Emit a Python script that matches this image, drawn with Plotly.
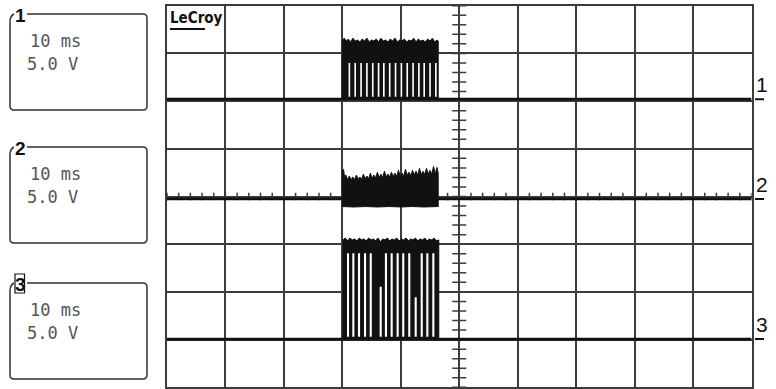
import plotly.graph_objects as go

W, H = 776, 389

# screen: 10 horizontal x 8 vertical divisions
TIME_PER_DIV_MS = 10
VOLTS_PER_DIV = 5.0
N_HDIV, N_VDIV = 10, 8

# channel ground levels (divisions from screen centre)
ch_names = ["1", "2", "3"]
ch_offsets_div = [2.04, -0.05, -2.99]
ch_timebase = ["10 ms", "10 ms", "10 ms"]
ch_scale = ["5.0 V", "5.0 V", "5.0 V"]

# --- channel 1: gate drive burst ---
ch1_start_ms, ch1_end_ms = 30.0, 46.4
ch1_top_ms = [30.0, 30.3, 30.7, 31.0, 31.4, 31.8, 32.2, 32.6, 33.0, 33.4,
              33.8, 34.2, 34.6, 35.0, 35.4, 35.8, 36.2, 36.6, 37.0, 37.4,
              37.8, 38.2, 38.6, 39.0, 39.4, 39.8, 40.2, 40.6, 41.0, 41.4,
              41.8, 42.2, 42.6, 43.0, 43.4, 43.8, 44.2, 44.6, 45.0, 45.4,
              45.8, 46.2, 46.4]
ch1_top_v = [6.0, 6.4, 6.1, 6.3, 6.0, 6.4, 6.1, 6.2, 6.0, 6.3,
             6.1, 6.4, 6.0, 6.2, 6.1, 6.3, 6.0, 6.4, 6.1, 6.2,
             6.0, 6.3, 6.1, 6.4, 6.0, 6.2, 6.1, 6.3, 6.0, 6.2,
             6.1, 6.4, 6.0, 6.3, 6.1, 6.2, 6.0, 6.3, 6.1, 6.4,
             6.0, 6.2, 6.1]
ch1_gap_ms = [31.2, 32.2, 33.2, 34.2, 35.2, 36.2, 37.1, 38.1, 39.1, 40.1,
              41.1, 42.1, 43.1, 44.0, 45.0, 46.0]
ch1_gap_top_v = [3.8, 3.8, 3.8, 3.8, 3.8, 3.8, 3.8, 3.8, 3.8, 3.8,
                 3.8, 3.8, 3.8, 3.8, 3.8, 3.8]
ch1_gap_width_ms = 0.28

# --- channel 2: current sense burst ---
ch2_start_ms, ch2_end_ms = 30.0, 46.4
ch2_top_ms = [30.0, 30.2, 30.4, 30.6, 30.9, 31.2, 31.5, 31.8, 32.1, 32.4,
              32.7, 33.0, 33.3, 33.6, 33.9, 34.2, 34.5, 34.8, 35.1, 35.4,
              35.7, 36.0, 36.3, 36.6, 36.9, 37.2, 37.5, 37.8, 38.1, 38.4,
              38.7, 39.0, 39.3, 39.6, 39.9, 40.2, 40.5, 40.8, 41.1, 41.4,
              41.7, 42.0, 42.3, 42.6, 42.9, 43.2, 43.5, 43.8, 44.1, 44.4,
              44.7, 45.0, 45.3, 45.6, 45.9, 46.2, 46.4]
ch2_top_v = [3.0, 3.1, 2.2, 2.5, 2.0, 2.4, 2.0, 2.3, 2.0, 2.5,
             2.05, 2.3, 2.05, 2.6, 2.1, 2.4, 2.1, 2.7, 2.15, 2.5,
             2.2, 2.8, 2.2, 2.6, 2.25, 2.9, 2.3, 2.6, 2.3, 2.8,
             2.35, 2.7, 2.35, 3.0, 2.4, 2.7, 2.4, 3.1, 2.45, 2.8,
             2.45, 3.0, 2.5, 2.9, 2.5, 3.2, 2.55, 2.9, 2.55, 3.2,
             2.6, 3.0, 2.6, 3.4, 2.65, 3.3, 2.7]
ch2_bottom_ms = [30.0, 32.0, 34.0, 36.0, 38.0, 40.0, 42.0, 44.0, 46.4]
ch2_bottom_v = [-0.8, -0.85, -0.8, -0.85, -0.8, -0.85, -0.8, -0.85, -0.8]

# --- channel 3: output burst ---
ch3_start_ms, ch3_end_ms = 30.1, 46.5
ch3_top_ms = [30.1, 30.5, 30.9, 31.3, 31.7, 32.1, 32.5, 32.9, 33.3, 33.7,
              34.1, 34.5, 34.9, 35.3, 35.7, 36.1, 36.5, 36.9, 37.3, 37.7,
              38.1, 38.5, 38.9, 39.3, 39.7, 40.1, 40.5, 40.9, 41.3, 41.7,
              42.1, 42.5, 42.9, 43.3, 43.7, 44.1, 44.5, 44.9, 45.3, 45.7,
              46.1, 46.5]
ch3_top_v = [10.4, 10.6, 10.3, 10.6, 10.4, 10.5, 10.3, 10.6, 10.4, 10.5,
             10.3, 10.6, 10.4, 10.5, 10.3, 10.6, 10.2, 10.5, 10.4, 10.6,
             10.3, 10.5, 10.4, 10.6, 10.3, 10.5, 10.4, 10.6, 10.3, 10.5,
             10.4, 10.6, 10.3, 10.5, 10.4, 10.6, 10.3, 10.5, 10.4, 10.6,
             10.3, 10.4]
ch3_gap_ms = [30.97, 31.88, 32.85, 33.88, 34.86, 36.56, 37.46, 38.44, 39.46,
              40.42, 41.45, 42.55, 43.58, 44.54, 45.57]
ch3_gap_top_v = [9.0, 9.0, 9.0, 9.0, 9.0, 5.5, 9.0, 9.0, 9.0,
                 9.0, 9.0, 4.4, 9.0, 9.0, 9.0]
ch3_gap_width_ms = 0.36

GAP_FLOOR_V = 0.25
INK = "#111111"
GRID = "#3c3c3c"


def to_div(volts, ch):
    return ch_offsets_div[ch] + volts / VOLTS_PER_DIV


def px(x):
    return x / W


def py(y):
    return 1 - y / H


fig = go.Figure()

# graticule tick marks along the centre axes
t_mid = TIME_PER_DIV_MS * N_HDIV / 2
tick_x, tick_y = [], []
for i in range(N_VDIV * 5 + 1):
    yv = -N_VDIV / 2 + i * 0.2
    tick_x += [t_mid - 1.2, t_mid + 1.2, None]
    tick_y += [yv, yv, None]
for i in range(N_HDIV * 5 + 1):
    xv = i * TIME_PER_DIV_MS / 5
    tick_x += [xv, xv, None]
    tick_y += [-0.08, 0.08, None]
fig.add_trace(go.Scatter(x=tick_x, y=tick_y, mode="lines",
                         line=dict(color=GRID, width=1.5), hoverinfo="skip"))

# flat traces (ground level of each channel)
for ch in range(3):
    fig.add_trace(go.Scatter(x=[0, TIME_PER_DIV_MS * N_HDIV],
                             y=[to_div(0, ch)] * 2, mode="lines",
                             line=dict(color=INK, width=2.8), hoverinfo="skip"))


def burst(ch, start, end, top_t, top_v, bot_t=None, bot_v=None):
    if bot_t is None:
        bot_t, bot_v = [end, start], [0, 0]
    else:
        bot_t, bot_v = bot_t[::-1], bot_v[::-1]
    xs = [start] + list(top_t) + [end] + list(bot_t) + [start]
    ys = [0] + list(top_v) + [0] + list(bot_v) + [0]
    fig.add_trace(go.Scatter(x=xs, y=[to_div(v, ch) for v in ys], mode="lines",
                             fill="toself", fillcolor=INK,
                             line=dict(color=INK, width=1), hoverinfo="skip"))


def gaps(ch, centres, tops, width):
    xs, ys = [], []
    for c, top in zip(centres, tops):
        a, b = c - width / 2, c + width / 2
        lo, hi = to_div(GAP_FLOOR_V, ch), to_div(top, ch)
        xs += [a, b, b, a, a, None]
        ys += [lo, lo, hi, hi, lo, None]
    fig.add_trace(go.Scatter(x=xs, y=ys, mode="lines", fill="toself",
                             fillcolor="white", line=dict(width=0),
                             hoverinfo="skip"))


burst(0, ch1_start_ms, ch1_end_ms, ch1_top_ms, ch1_top_v)
gaps(0, ch1_gap_ms, ch1_gap_top_v, ch1_gap_width_ms)
burst(1, ch2_start_ms, ch2_end_ms, ch2_top_ms, ch2_top_v,
      ch2_bottom_ms, ch2_bottom_v)
burst(2, ch3_start_ms, ch3_end_ms, ch3_top_ms, ch3_top_v)
gaps(2, ch3_gap_ms, ch3_gap_top_v, ch3_gap_width_ms)

shapes = []
annotations = []

# ground markers at the right edge
for ch in range(3):
    annotations.append(dict(x=px(754), y=to_div(0, ch), xref="paper", yref="y",
                            text=ch_names[ch], showarrow=False,
                            xanchor="left", yanchor="bottom", yshift=1,
                            font=dict(family="Liberation Sans Narrow, Liberation Sans",
                                      size=21, color=INK)))
    shapes.append(dict(type="line", xref="paper", yref="y",
                       x0=px(755), x1=px(764), y0=to_div(0, ch),
                       y1=to_div(0, ch), line=dict(color=INK, width=2)))


# channel info boxes on the left
def box_path(x0, y0, x1, y1, r, lx):
    pts = [("M", lx, y0), ("L", x1 - r, y0), ("Q", x1, y0, x1, y0 + r),
           ("L", x1, y1 - r), ("Q", x1, y1, x1 - r, y1), ("L", x0 + r, y1),
           ("Q", x0, y1, x0, y1 - r), ("L", x0, y0 + 8),
           ("Q", x0, y0 + 2, x0 + 4, y0)]
    out = []
    for p in pts:
        cmd, coords = p[0], p[1:]
        pairs = [f"{px(coords[i]):.5f},{py(coords[i + 1]):.5f}"
                 for i in range(0, len(coords), 2)]
        out.append(cmd + " " + " ".join(pairs))
    return " ".join(out)


box_tops = [14, 147, 283]
box_h = 96
for ch in range(3):
    top = box_tops[ch]
    shapes.append(dict(type="path", xref="paper", yref="paper",
                       path=box_path(10, top, 147, top + box_h, 4, 27),
                       line=dict(color="#333333", width=1.5)))
    label = ch_names[ch]
    annotations.append(dict(x=px(20), y=py(top + 1), xref="paper", yref="paper",
                            text=f"<b>{label}</b>", showarrow=False,
                            xanchor="center", yanchor="middle",
                            font=dict(family="Liberation Sans", size=19,
                                      color=INK)))
    annotations.append(dict(x=px(28), y=py(top + 27), xref="paper", yref="paper",
                            text=ch_timebase[ch], showarrow=False,
                            xanchor="left", yanchor="middle",
                            font=dict(family="DejaVu Sans Mono", size=17,
                                      color="#555555")))
    annotations.append(dict(x=px(25), y=py(top + 50), xref="paper", yref="paper",
                            text=ch_scale[ch], showarrow=False,
                            xanchor="left", yanchor="middle",
                            font=dict(family="DejaVu Sans Mono", size=17,
                                      color="#555555")))

# highlighted trigger-source label on channel 3
shapes.append(dict(type="rect", xref="paper", yref="paper",
                   x0=px(15), x1=px(24.5), y0=py(274), y1=py(293),
                   line=dict(color=INK, width=1.2)))

# maker logo
annotations.append(dict(x=px(168), y=py(18), xref="paper", yref="paper",
                        text="<b>LeCroy</b>", showarrow=False,
                        xanchor="left", yanchor="middle",
                        font=dict(family="Liberation Sans Narrow, DejaVu Sans Condensed, Liberation Sans",
                                  size=15, color=INK)))
shapes.append(dict(type="line", xref="paper", yref="paper",
                   x0=px(170), x1=px(205), y0=py(29), y1=py(29),
                   line=dict(color=INK, width=2)))

fig.update_layout(
    width=W, height=H,
    margin=dict(l=0, r=0, t=0, b=0),
    paper_bgcolor="white", plot_bgcolor="white",
    showlegend=False,
    shapes=shapes, annotations=annotations,
    xaxis=dict(domain=[px(167), px(751.5)],
               range=[0, TIME_PER_DIV_MS * N_HDIV],
               tickmode="linear", tick0=0, dtick=TIME_PER_DIV_MS,
               showgrid=True, gridcolor=GRID, gridwidth=1.5,
               showticklabels=False, ticks="", zeroline=False,
               showline=True, mirror=True, linecolor=GRID, linewidth=1.5,
               fixedrange=True),
    yaxis=dict(domain=[py(387.3), py(5.7)],
               range=[-N_VDIV / 2, N_VDIV / 2],
               tickmode="linear", tick0=0, dtick=1,
               showgrid=True, gridcolor=GRID, gridwidth=1.5,
               showticklabels=False, ticks="", zeroline=False,
               showline=True, mirror=True, linecolor=GRID, linewidth=1.5,
               fixedrange=True),
)

fig.write_html("out.html")
